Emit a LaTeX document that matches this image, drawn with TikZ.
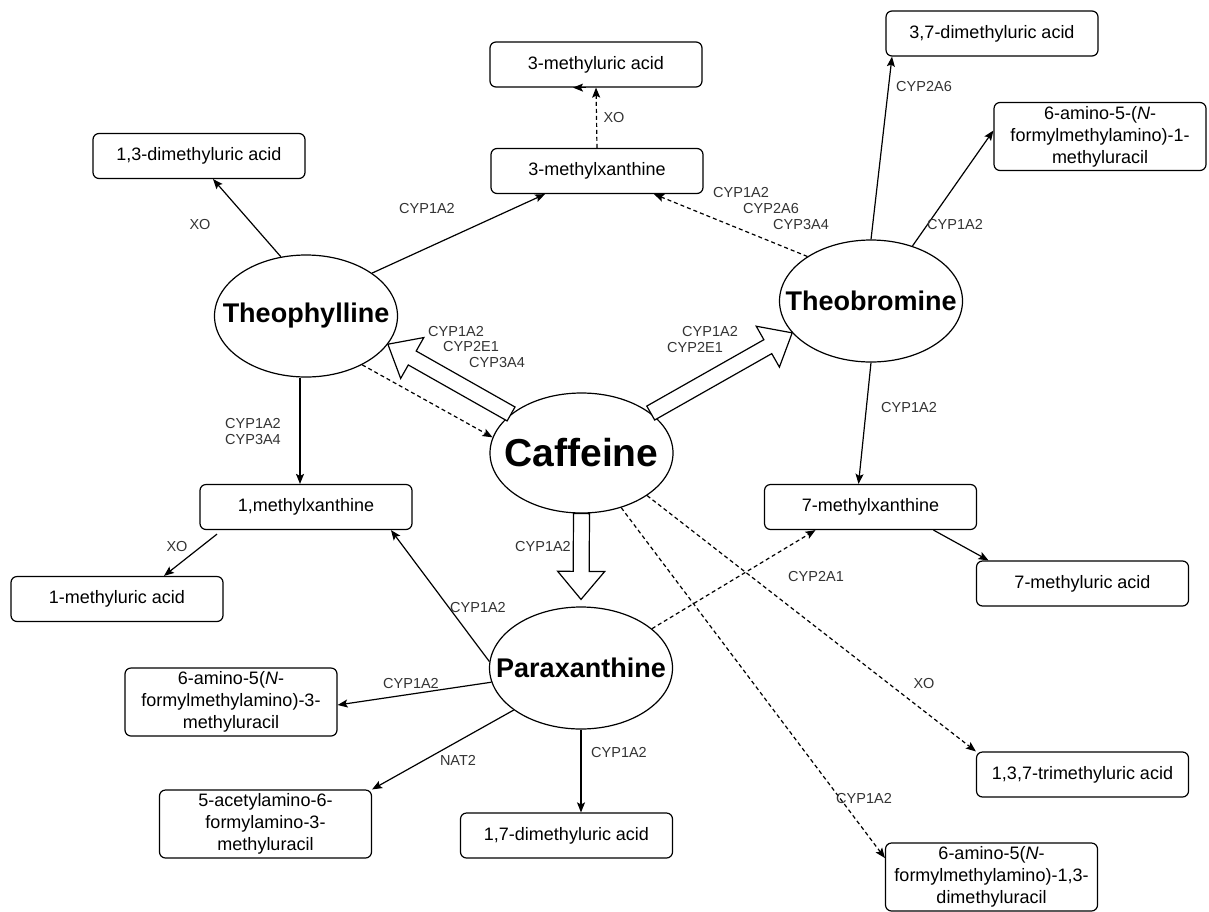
\documentclass[tikz,border=0pt]{standalone}
\usepackage{fontspec}
\setmainfont{Liberation Sans}
\usetikzlibrary{shapes.geometric, arrows.meta, calc}

% wide hollow arrow from #1 to #2
\newcommand{\fatarrow}[2]{%
  \coordinate (hb) at ($(#2)!28pt!(#1)$);
  \draw[hollow] ($(#1)!8pt!90:(#2)$) -- ($(hb)!8pt!-90:(#1)$) -- ($(hb)!23.5pt!-90:(#1)$)
    -- (#2) -- ($(hb)!23.5pt!90:(#1)$) -- ($(hb)!8pt!90:(#1)$) -- ($(#1)!8pt!-90:(#2)$) -- cycle;
}
\newcommand{\drugname}[1]{\makebox[0pt]{#1}}

\begin{document}
\begin{tikzpicture}[x=1pt, y=-1pt,
    box/.style={rectangle, rounded corners=6pt, draw, line width=1.2pt, minimum width=212pt,
                minimum height=45pt, inner sep=2pt, align=center, font=\fontsize{18}{22}\selectfont},
    tallbox/.style={box, minimum height=68pt},
    drug/.style={ellipse, draw, line width=1.2pt, minimum width=183pt, minimum height=122pt,
                 inner sep=0pt, font=\fontsize{27}{30}\selectfont\bfseries},
    enz/.style={font=\fontsize{14.5}{15.5}\selectfont, text=black!80, inner sep=0pt, align=left},
    arr/.style={-{Stealth[length=10pt,width=8pt,inset=2pt]}, line width=1.2pt},
    darr/.style={arr, dash pattern=on 4pt off 3pt},
    hollow/.style={draw, fill=white, line width=1.2pt, line join=miter}
  ]
  \useasboundingbox (0,0) rectangle (1209,911);

  \node[drug, font=\fontsize{39}{42}\selectfont\bfseries, minimum height=120pt] (caf) at (581.5,453) {\drugname{Caffeine}};
  \node[drug] (theo)  at (306,316) {\drugname{Theophylline}};
  \node[drug] (theob) at (871,301) {\drugname{Theobromine}};
  \node[drug] (para)  at (581,668) {\drugname{Paraxanthine}};

  \node[box] (mua3)   at (596,64.5)  {3-methyluric acid};
  \node[box] (mx3)    at (597,171)   {3-methylxanthine};
  \node[box] (dmua13) at (199,156)   {1,3-dimethyluric acid};
  \node[box] (dmua37) at (992,33.5)  {3,7-dimethyluric acid};
  \node[tallbox] (amfmu1) at (1100,136.5) {6-amino-5-(\textit{N}-\\formylmethylamino)-1-\\methyluracil};
  \node[box] (mx1)    at (306,507)   {1,methylxanthine};
  \node[box] (mua1)   at (117,599)   {1-methyluric acid};
  \node[box] (mx7)    at (870.5,507) {7-methylxanthine};
  \node[box] (mua7)   at (1082.5,583.5) {7-methyluric acid};
  \node[tallbox] (amfmu3) at (231,702) {6-amino-5(\textit{N}-\\formylmethylamino)-3-\\methyluracil};
  \node[tallbox] (acetyl) at (265.5,824) {5-acetylamino-6-\\formylamino-3-\\methyluracil};
  \node[box] (dmua17) at (566.5,835.5) {1,7-dimethyluric acid};
  \node[box] (tmua)   at (1082.5,774.5) {1,3,7-trimethyluric acid};
  \node[tallbox] (amfmu13) at (991.5,877) {6-amino-5(\textit{N}-\\formylmethylamino)-1,3-\\dimethyluracil};

  % main demethylations
  \fatarrow{caf.151}{theo.-19}
  \fatarrow{caf.30}{theob.202}
  \fatarrow{caf.south}{[yshift=7pt]para.north}

  \draw[arr] (theo.113) -- ([xshift=14pt]dmua13.south);
  \draw[arr] (theo.33) -- ([xshift=-52pt]mx3.south);
  \draw[arr] ([xshift=-6pt]theo.south) -- ([xshift=-6pt]mx1.north);
  \draw[darr] (theo.-41) -- (caf.170);
  \draw[darr] (mx3.north) -- (mua3.south);
  \draw[arr] ([xshift=-10pt]mua3.south) -- ([xshift=-23pt]mua3.south);
  \draw[arr] ([xshift=-89pt,yshift=-4pt]mx1.south) -- ([xshift=47pt]mua1.north);

  \draw[arr] (theob.north) -- ([xshift=-100pt]dmua37.south);
  \draw[arr] (theob.53) -- ([yshift=6pt]amfmu1.west);
  \draw[darr] (theob.145) -- ([xshift=57pt]mx3.south);
  \draw[arr] (theob.south) -- ([xshift=-12pt]mx7.north);
  \draw[arr] ([xshift=63pt]mx7.south) -- ([xshift=-94pt]mua7.north);

  \draw[darr] (caf.-33) -- (tmua.north west);
  \draw[darr] (caf.-54) -- ([yshift=19pt]amfmu13.west);

  \draw[arr] (para.176) -- ([xshift=85pt]mx1.south);
  \draw[arr] (para.189) -- ([yshift=-3pt]amfmu3.east);
  \draw[arr] (para.212) -- (acetyl.north east);
  \draw[arr] (para.south) -- ([xshift=14.5pt]dmua17.north);
  \draw[darr] (para.29) -- ([xshift=-55pt]mx7.south);

  % enzyme labels
  \node[enz] at (200,225) {XO};
  \node[enz] at (427,209) {CYP1A2};
  \node[enz] at (614,118) {XO};
  \node[enz, anchor=west] at (428,347) {CYP1A2\\\hspace*{15pt}CYP2E1\\\hspace*{41pt}CYP3A4};
  \node[enz, align=center, font=\fontsize{14.5}{16}\selectfont] at (253,431) {CYP1A2\\CYP3A4};
  \node[enz, anchor=west, font=\fontsize{14.5}{16}\selectfont] at (713,209) {CYP1A2\\\hspace*{30pt}CYP2A6\\\hspace*{60pt}CYP3A4};
  \node[enz, anchor=west, font=\fontsize{14.5}{16}\selectfont] at (667,340) {\hspace*{15pt}CYP1A2\\CYP2E1};
  \node[enz] at (924,87)  {CYP2A6};
  \node[enz] at (955,225) {CYP1A2};
  \node[enz] at (909,407) {CYP1A2};
  \node[enz] at (177,546) {XO};
  \node[enz] at (543,546) {CYP1A2};
  \node[enz] at (478,607) {CYP1A2};
  \node[enz] at (411,683) {CYP1A2};
  \node[enz] at (458,760) {NAT2};
  \node[enz] at (619,752) {CYP1A2};
  \node[enz] at (816,576) {CYP2A1};
  \node[enz] at (924,683) {XO};
  \node[enz] at (864,798) {CYP1A2};
\end{tikzpicture}
\end{document}
